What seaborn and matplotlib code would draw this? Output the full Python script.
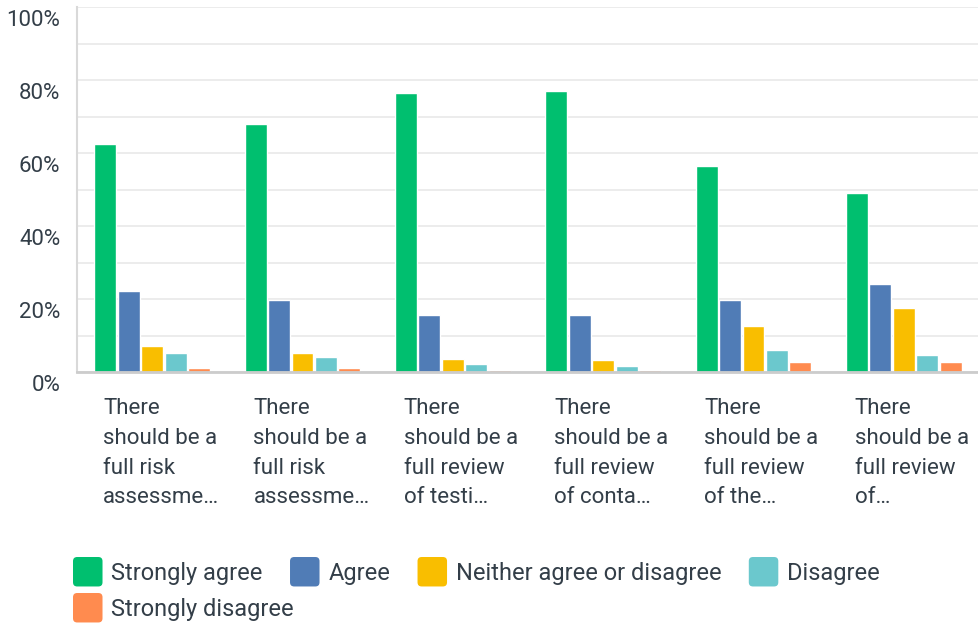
import pandas as pd
import matplotlib.pyplot as plt
import matplotlib.transforms as mtransforms
from matplotlib.patches import Patch, FancyBboxPatch
from matplotlib.legend_handler import HandlerPatch
import seaborn as sns

# Survey data (percent of respondents)
questions = [
    "There\nshould be a\nfull risk\nassessme\u2026",
    "There\nshould be a\nfull risk\nassessme\u2026",
    "There\nshould be a\nfull review\nof testi\u2026",
    "There\nshould be a\nfull review\nof conta\u2026",
    "There\nshould be a\nfull review\nof the\u2026",
    "There\nshould be a\nfull review\nof\u2026",
]
responses = ["Strongly agree", "Agree", "Neither agree or disagree",
             "Disagree", "Strongly disagree"]
strongly_agree = [62.6, 68.0, 76.5, 77.1, 56.5, 49.1]
agree = [22.2, 19.8, 15.6, 15.6, 19.8, 24.1]
neither = [7.1, 5.2, 3.6, 3.3, 12.6, 17.6]
disagree = [5.2, 4.1, 2.2, 1.6, 6.0, 4.7]
strongly_disagree = [1.1, 1.1, 0.6, 0.6, 2.7, 2.7]
colors = ["#00BF6F", "#507CB6", "#F9BE00", "#6BC8CD", "#FF8B4F"]

values = [strongly_agree, agree, neither, disagree, strongly_disagree]
rows = []
for resp, vals in zip(responses, values):
    for i, v in enumerate(vals):
        rows.append({"question": i, "response": resp, "pct": v})
df = pd.DataFrame(rows)

sns.set_style("white")
plt.rcParams["font.family"] = ["Roboto", "DejaVu Sans"]
text_color = "#333E48"

fig = plt.figure(figsize=(9.79, 6.26), dpi=100)
ax = fig.add_axes([77 / 979, 1 - 372 / 626, 1 - 77 / 979, (372 - 7) / 626])

sns.barplot(data=df, x="question", y="pct", hue="response", hue_order=responses,
            palette=colors, width=0.78, gap=0.07, saturation=1, legend=False,
            ax=ax, errorbar=None)

ax.set_xlim(-0.5, 5.5)
ax.set_ylim(0, 100)
ax.set_xlabel("")
ax.set_ylabel("")

# gridlines every 10%, labels every 20%
ax.set_yticks(range(0, 101, 10))
ax.set_yticklabels([f"{v}%" if v % 20 == 0 else "" for v in range(0, 101, 10)])
ax.yaxis.grid(True, color="#EBEBEB", linewidth=1.3)
ax.set_axisbelow(True)
ax.tick_params(axis="y", length=0, pad=12, labelsize=16, labelcolor=text_color)
ylab_off = mtransforms.ScaledTranslation(0, -11 / 100, fig.dpi_scale_trans)
for lab in ax.get_yticklabels():
    lab.set_transform(lab.get_transform() + ylab_off)

ax.set_xticks(range(len(questions)))
ax.set_xticklabels(questions, ha="left", va="top", linespacing=1.55)
ax.tick_params(axis="x", length=0, pad=0, labelsize=16, labelcolor=text_color)
xlab_off = mtransforms.ScaledTranslation(-49 / 100, -26 / 100, fig.dpi_scale_trans)
for lab in ax.get_xticklabels():
    lab.set_transform(lab.get_transform() + xlab_off)

for side in ["top", "right"]:
    ax.spines[side].set_visible(False)
ax.spines["left"].set_color("#D9D9D9")
ax.spines["left"].set_linewidth(1.5)
ax.spines["bottom"].set_color("#CCCCCC")
ax.spines["bottom"].set_linewidth(2)


def rounded_square(legend, orig_handle, xdescent, ydescent, width, height, fontsize):
    return FancyBboxPatch((-xdescent, -ydescent - 3), width, height + 6,
                          boxstyle="round,pad=0,rounding_size=3")


handles = [Patch(facecolor=c, edgecolor="none") for c in colors]
leg_kw = dict(frameon=False, fontsize=17, labelcolor=text_color,
              handlelength=1.25, handleheight=1.0, handletextpad=0.38,
              borderpad=0, borderaxespad=0, columnspacing=1.15,
              handler_map={Patch: HandlerPatch(patch_func=rounded_square)})
leg1 = fig.legend(handles[:4], responses[:4], ncol=4, loc="center left",
                  bbox_to_anchor=(73 / 979, 1 - 573 / 626), **leg_kw)
leg2 = fig.legend(handles[4:], responses[4:], ncol=1, loc="center left",
                  bbox_to_anchor=(73 / 979, 1 - 609 / 626), **leg_kw)

fig.savefig("out.png", dpi=100, facecolor="white")
